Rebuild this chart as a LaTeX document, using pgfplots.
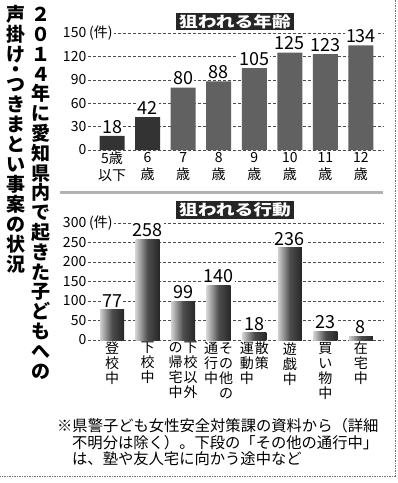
\documentclass[border=0pt]{standalone}
\usepackage{fontspec}
\setmainfont{Noto Sans CJK JP}
\usepackage{graphicx}
\usepackage{pgfplots}
\pgfplotsset{compat=1.18}
\newcommand\vcol[1]{\parbox[t]{15pt}{\centering #1}}
\pgfplotsset{gbar/.style={ybar, bar width=24pt, bar shift=0pt, draw=none, left color=black!18, right color=black!85, middle color=black!70}}
\begin{document}
\begin{tikzpicture}
\path[use as bounding box] (0,0) rectangle (398pt,-483pt);
% left vertical title
\node[anchor=north, inner sep=0pt, align=center, font=\bfseries\fontsize{19}{19.8}\selectfont] at (41pt,-7pt)
 {２\\０\\１\\４\\年\\に\\愛\\知\\県\\内\\で\\起\\き\\た\\子\\ど\\も\\へ\\の};
\node[anchor=north, inner sep=0pt, align=center, font=\bfseries\fontsize{19}{20}\selectfont] at (16pt,-5pt)
 {声\\掛\\け\\[-5pt]・\\[-5pt]つ\\き\\ま\\と\\い\\事\\案\\の\\状\\況};
% top chart
\begin{axis}[
 at={(88pt,-150pt)}, anchor=south west, scale only axis, width=296pt, height=117pt,
 xmin=-0.675, xmax=7.647, ymin=0, ymax=150,
 ytick={0,30,...,150}, xtick={0,...,7},
 xticklabels={{5歳\\以下},{6\\歳},{7\\歳},{8\\歳},{9\\歳},{10\\歳},{11\\歳},{12\\歳}},
 xticklabel style={align=center, font=\fontsize{14}{17}\selectfont, inner sep=1pt, yshift=-1pt},
 yticklabel style={font=\fontsize{14}{14}\selectfont, inner sep=1.5pt},
 axis line style={draw=none}, major tick length=0pt,
 ymajorgrids, grid style={black!70, dash pattern=on 3pt off 2pt, line width=0.6pt},
 /pgf/number format/assume math mode=true,
 clip=false,
 nodes near coords, nodes near coords style={font=\fontsize{18}{18}\selectfont, fill=white, inner sep=1pt, anchor=south, yshift=1.5pt},
]
\addplot[ybar, bar width=25pt, bar shift=0pt, draw=none, fill=black!80] coordinates {(0,18) (1,42)};
\addplot[ybar, bar width=25pt, bar shift=0pt, draw=none, fill=black!62] coordinates {(2,80) (3,88) (4,105) (5,125) (6,123) (7,134)};
\node[anchor=west, fill=white, inner sep=1pt, font=\fontsize{14}{14}\selectfont] at (axis cs:-0.675,150) {(件)};
\end{axis}
\node[fill=black!85, text=white, font=\bfseries\fontsize{15}{15}\selectfont, inner xsep=3pt, inner ysep=1.5pt] at (235pt,-21.5pt) {\scalebox{1.25}[1]{狙われる年齢}};
\draw[gray!60, line width=3pt] (60pt,-192pt) -- (383pt,-192pt);
% bottom chart
\begin{axis}[
 at={(88pt,-340pt)}, anchor=south west, scale only axis, width=296pt, height=117pt,
 xmin=-0.675, xmax=7.647, ymin=0, ymax=300,
 ytick={0,50,...,300}, xtick={0,...,7},
 xticklabels={{\vcol{登\\校\\中}},{\vcol{下\\校\\中}},{\vcol{の\\帰\\宅\\中}\vcol{下\\校\\以\\外}},{\vcol{通\\行\\中}\vcol{そ\\の\\他\\の}},{\vcol{運\\動\\中}\vcol{散\\策}},{\vcol{遊\\戯\\中}},{\vcol{買\\い\\物\\中}},{\vcol{在\\宅\\中}}},
 xticklabel style={font=\fontsize{14}{15}\selectfont, inner sep=1pt, yshift=-1pt},
 yticklabel style={font=\fontsize{14}{14}\selectfont, inner sep=1.5pt},
 axis line style={draw=none}, major tick length=0pt,
 ymajorgrids, grid style={black!70, dash pattern=on 3pt off 2pt, line width=0.6pt},
 /pgf/number format/assume math mode=true,
 clip=false,
 nodes near coords, nodes near coords style={font=\fontsize{18}{18}\selectfont, fill=white, inner sep=1pt, anchor=south, yshift=1.5pt},
]
\addplot[gbar] coordinates {(0,77)};
\addplot[gbar] coordinates {(1,258)};
\addplot[gbar] coordinates {(2,99)};
\addplot[gbar] coordinates {(3,140)};
\addplot[gbar] coordinates {(4,18)};
\addplot[gbar] coordinates {(5,236)};
\addplot[gbar] coordinates {(6,23)};
\addplot[gbar] coordinates {(7,8)};
\node[anchor=west, fill=white, inner sep=1pt, font=\fontsize{14}{14}\selectfont] at (axis cs:-0.675,300) {(件)};
\end{axis}
\node[fill=black!85, text=white, font=\bfseries\fontsize{15}{15}\selectfont, inner xsep=3pt, inner ysep=1.5pt] at (235pt,-210pt) {\scalebox{1.25}[1]{狙われる行動}};
% note
\begin{scope}[every node/.style={anchor=base west, inner sep=0pt, font=\fontsize{15.3}{15.3}\selectfont}]
\node at (57pt,-431.5pt) {※県警子ども女性安全対策課の資料から（詳細};
\node at (72pt,-448pt) {不明分は除く）。下段の「その他の通行中」};
\node at (72pt,-464.5pt) {は、塾や友人宅に向かう途中など};
\end{scope}
\draw[black!55, line width=0.8pt, dash pattern=on 1.5pt off 1pt] (395pt,0pt) -- (395pt,-476pt) -- (0pt,-476pt);
\end{tikzpicture}
\end{document}
